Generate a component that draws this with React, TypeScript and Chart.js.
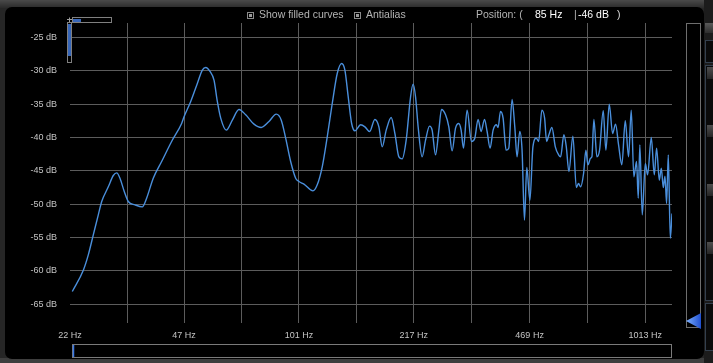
import React, { useEffect, useRef } from "react";
import { Chart, registerables } from "chart.js";

Chart.register(...registerables);

// Spectrum curve: frequency (Hz) and level (dB)
const freqHz: number[] = [
  22.34, 24.04, 24.85, 25.69, 26.56, 27.17, 28.39, 29.35, 30.02, 30.68, 31.57, 32.42, 33.9, 35.59, 36.64, 38.29, 40.49, 43.27, 46.25,
  47.0, 49.14, 51.35, 53.09, 54.3, 55.87, 57.38, 58.66, 60.0, 62.28, 64.82, 67.76, 70.85, 74.87, 78.58, 82.73, 86.84, 89.79, 92.45, 95.57, 98.8,
  101, 104.41, 110.87, 114.08, 117.93, 121.93, 126.05, 130.32, 134.19, 137.13, 140.2, 143.42, 146.58, 152.26, 156.67, 161.64, 167.43, 171.96,
  175.79, 180.54, 186.62, 191.28, 196.43, 200.79, 206.2, 212.32,
  216.0, 219.47, 223.3, 229.3, 234.6, 240.9, 245.1, 250.7, 256.3, 260.9, 268.0, 273.9, 280.0, 286.4, 292.7, 297.3, 302.0, 309.3, 318.5,
  325.6, 332.8, 339.6, 347.3, 353.4, 360.5, 367.8, 376.2, 380.2, 386.3, 393.1, 401.0, 408.2, 417.3, 424.9, 431.4, 439.2, 446.0, 453.2, 460.2,
  469.9, 479.4, 490.4, 497.9, 509.0, 518.2, 525.2, 533.3, 544.0, 556.5, 568.8, 576.4, 589.2, 598.7, 609.1, 625.6, 640.0, 649.7, 658.5,
  671.7, 682.1, 691.2, 703.8, 709.9, 719.4, 733.9, 747.1, 765.7, 779.1, 796.9, 814.7, 831.0, 847.8, 866.6, 886.4, 906.1, 922.5, 938.7,
  955.6, 966.5, 976.9, 992.6, 1013, 1028.6, 1054.2, 1075.5, 1092.1, 1112.0, 1126.9, 1141.9, 1154.8, 1167.2, 1180.5, 1196.4, 1210,
];

const levelDb: number[] = [
  -63.1, -59.9, -57.6, -54.6, -51.6, -49.6, -47.4, -45.7, -45.3, -46.1, -48.1, -49.6, -50.1, -50.4, -49.1, -46.1, -43.6, -40.6, -37.9,
  -36.9, -34.6, -31.9, -29.9, -29.5, -30.1, -31.4, -34.6, -37.1, -38.9, -37.4, -35.8, -36.6, -38.0, -38.5, -37.6, -36.5, -37.4, -40.1, -43.6, -46.1,
  -46.6, -47.0, -48.0, -47.1, -44.4, -39.9, -34.9, -30.4, -28.9, -29.9, -33.9, -37.9, -39.0, -38.1, -38.4, -39.1, -37.3, -38.4,
  -41.4, -38.9, -37.0, -39.4, -42.9, -43.2, -40.4, -33.9,
  -32.0, -33.9, -38.4, -42.9, -40.4, -38.3, -38.9, -42.6, -38.9, -35.8, -36.6, -38.4, -42.0, -38.6, -37.9, -38.9, -41.6, -35.9, -40.6,
  -40.1, -37.3, -39.1, -37.3, -39.1, -41.6, -38.9, -38.1, -38.5, -36.1, -37.1, -41.9, -41.6, -34.3, -38.4, -42.9, -39.1, -41.9, -52.4, -44.5,
  -49.4, -41.4, -40.1, -40.6, -35.9, -37.1, -40.6, -39.6, -38.5, -41.4, -42.6, -42.9, -39.6, -41.4, -45.1, -39.8, -47.5, -46.9, -47.4,
  -45.4, -41.9, -44.1, -43.1, -42.9, -37.3, -42.9, -41.9, -36.0, -41.9, -35.0, -39.4, -38.0, -41.1, -44.1, -37.5, -42.9, -35.9, -45.9,
  -43.6, -49.1, -41.1, -51.6, -43.9, -45.6, -40.0, -45.6, -41.6, -46.4, -44.6, -47.5, -45.8, -49.9, -42.6, -55.1, -51.4,
];

// Axis ticks
const xGridHz: number[] = [22, 32.16, 47, 68.9, 101, 148, 217, 319, 469, 689.3, 1013];
const xLabelHz: number[] = [22, 47, 101, 217, 469, 1013];
const yTicksDb: number[] = [-65, -60, -55, -50, -45, -40, -35, -30, -25];

const FONT = "'Liberation Sans', Arial, Helvetica, sans-serif";

const decorPlugin = {
  id: "decor",
  beforeDraw(chart: any) {
    const ctx: CanvasRenderingContext2D = chart.ctx;
    const W = chart.width;
    const H = chart.height;
    ctx.save();
    ctx.fillStyle = "#262626";
    ctx.fillRect(0, 0, W, H);
    const g = ctx.createLinearGradient(0, 0, 0, 8);
    g.addColorStop(0, "#4a4a4a");
    g.addColorStop(1, "#2a2a2a");
    ctx.fillStyle = g;
    ctx.fillRect(0, 0, W, 8);
    ctx.fillStyle = "#3e3e3e";
    ctx.fillRect(0, 358, W, 5);
    // black panel
    ctx.fillStyle = "#000";
    ctx.beginPath();
    (ctx as any).roundRect(5, 7, 699, 352, 7);
    ctx.fill();
    ctx.restore();
  },
  afterDraw(chart: any) {
    const ctx: CanvasRenderingContext2D = chart.ctx;
    ctx.save();
    // top-left level widgets
    ctx.strokeStyle = "#808080";
    ctx.lineWidth = 1;
    ctx.strokeRect(72.5, 17.5, 39, 5);
    ctx.strokeRect(67.5, 22.5, 4, 40);
    ctx.fillStyle = "#3766b8";
    ctx.fillRect(73, 19, 8, 3);
    ctx.fillRect(68, 24, 3, 32);
    ctx.strokeStyle = "#a0a0a0";
    ctx.beginPath();
    ctx.moveTo(69.5, 17.5);
    ctx.lineTo(69.5, 22);
    ctx.moveTo(67, 19.5);
    ctx.lineTo(72, 19.5);
    ctx.stroke();

    // checkboxes in header
    const box = (x: number) => {
      ctx.strokeStyle = "#8a8a8a";
      ctx.strokeRect(x + 0.5, 12.5, 6, 6);
      ctx.fillStyle = "#9a9a9a";
      ctx.fillRect(x + 2, 14, 3, 3);
    };
    box(247);
    box(354);

    // right vertical slider
    ctx.strokeStyle = "#6e6e6e";
    ctx.strokeRect(686.5, 23.5, 14, 304);
    const tg = ctx.createLinearGradient(686, 0, 701, 0);
    tg.addColorStop(0, "#7fb2ff");
    tg.addColorStop(1, "#1f4fd0");
    ctx.fillStyle = tg;
    ctx.beginPath();
    ctx.moveTo(686, 321);
    ctx.lineTo(701, 313);
    ctx.lineTo(701, 329);
    ctx.closePath();
    ctx.fill();

    // far right controls
    ctx.fillStyle = "#1c1c1c";
    ctx.fillRect(704, 0, 9, 363);
    const bg = ctx.createLinearGradient(0, 23, 0, 33);
    bg.addColorStop(0, "#5a5a5a");
    bg.addColorStop(1, "#2e2e2e");
    ctx.fillStyle = bg;
    ctx.fillRect(705, 23, 8, 10);
    ctx.strokeStyle = "#34404e";
    ctx.fillStyle = "#0a0a0a";
    ctx.fillRect(705, 40, 8, 22);
    ctx.strokeRect(705.5, 40.5, 9, 22);
    ctx.fillRect(705, 65, 8, 235);
    ctx.strokeRect(705.5, 65.5, 9, 235);
    ctx.fillRect(705, 303, 8, 47);
    ctx.strokeRect(705.5, 303.5, 9, 47);
    [67, 125, 184, 242].forEach((y) => {
      const sg = ctx.createLinearGradient(0, y, 0, y + 12);
      sg.addColorStop(0, "#4e4e4e");
      sg.addColorStop(1, "#262626");
      ctx.fillStyle = sg;
      ctx.fillRect(707, y, 6, 12);
    });

    // bottom scrollbar
    ctx.strokeStyle = "#7a7a7a";
    ctx.strokeRect(72.5, 344.5, 599, 13);
    ctx.strokeStyle = "#3a78e6";
    ctx.lineWidth = 1.5;
    ctx.beginPath();
    ctx.moveTo(73.5, 345);
    ctx.lineTo(73.5, 357);
    ctx.stroke();
    ctx.restore();
  },
};

export default function App() {
  const canvasRef = useRef<HTMLCanvasElement | null>(null);

  useEffect(() => {
    const canvas = canvasRef.current;
    if (!canvas) return;
    const points = freqHz.map((f, i) => ({ x: f, y: levelDb[i] }));
    const chart = new Chart(canvas, {
      type: "line",
      data: {
        datasets: [
          {
            data: points,
            borderColor: "#4a8fdc",
            borderWidth: 1.4,
            pointRadius: 0,
            fill: false,
            cubicInterpolationMode: "monotone",
          },
        ],
      },
      options: {
        animation: false,
        responsive: false,
        devicePixelRatio: 1,
        layout: { padding: { top: 23, right: 41, left: 0, bottom: 0 } },
        plugins: { legend: { display: false }, tooltip: { enabled: false } },
        scales: {
          x: {
            type: "logarithmic",
            min: 22,
            max: 1210,
            afterBuildTicks: (axis: any) => {
              axis.ticks = xGridHz.map((v) => ({ value: v }));
            },
            afterFit: (axis: any) => {
              axis.height = 40;
            },
            border: { display: false },
            grid: {
              color: (c: any) => (c.index === 0 ? "rgba(0,0,0,0)" : "#5c5c5c"),
              lineWidth: 1,
              drawTicks: false,
            },
            ticks: {
              autoSkip: false,
              maxRotation: 0,
              padding: 7,
              color: "#c4c4c4",
              font: { family: FONT, size: 9 },
              callback: (v: any) => (xLabelHz.includes(Number(v)) ? `${v} Hz` : ""),
            },
          },
          y: {
            type: "linear",
            min: -67.82,
            max: -22.83,
            afterBuildTicks: (axis: any) => {
              axis.ticks = yTicksDb.map((v) => ({ value: v }));
            },
            afterFit: (axis: any) => {
              axis.width = 70;
            },
            border: { display: false },
            grid: { color: "#5c5c5c", lineWidth: 1, drawTicks: false },
            ticks: {
              padding: 13,
              color: "#c4c4c4",
              font: { family: FONT, size: 9 },
              callback: (v: any) => `${v} dB`,
            },
          },
        },
      },
      plugins: [decorPlugin],
    } as any);
    return () => chart.destroy();
  }, []);

  const txt: React.CSSProperties = {
    position: "absolute",
    top: 8,
    fontFamily: FONT,
    fontSize: 10.5,
    lineHeight: "13px",
    color: "#b4b4b4",
    whiteSpace: "nowrap",
  };

  return (
    <div style={{ position: "fixed", left: 0, top: 0, width: 713, height: 363, overflow: "hidden", background: "#000" }}>
      <canvas ref={canvasRef} width={713} height={363} style={{ display: "block", width: 713, height: 363 }} />
      <span style={{ ...txt, left: 259 }}>Show filled curves</span>
      <span style={{ ...txt, left: 366 }}>Antialias</span>
      <span style={{ ...txt, left: 476 }}>Position: (</span>
      <span style={{ ...txt, left: 535, color: "#ffffff" }}>85 Hz</span>
      <span style={{ ...txt, left: 574 }}>|</span>
      <span style={{ ...txt, left: 578, color: "#ffffff" }}>-46 dB</span>
      <span style={{ ...txt, left: 617, color: "#dddddd" }}>)</span>
    </div>
  );
}
